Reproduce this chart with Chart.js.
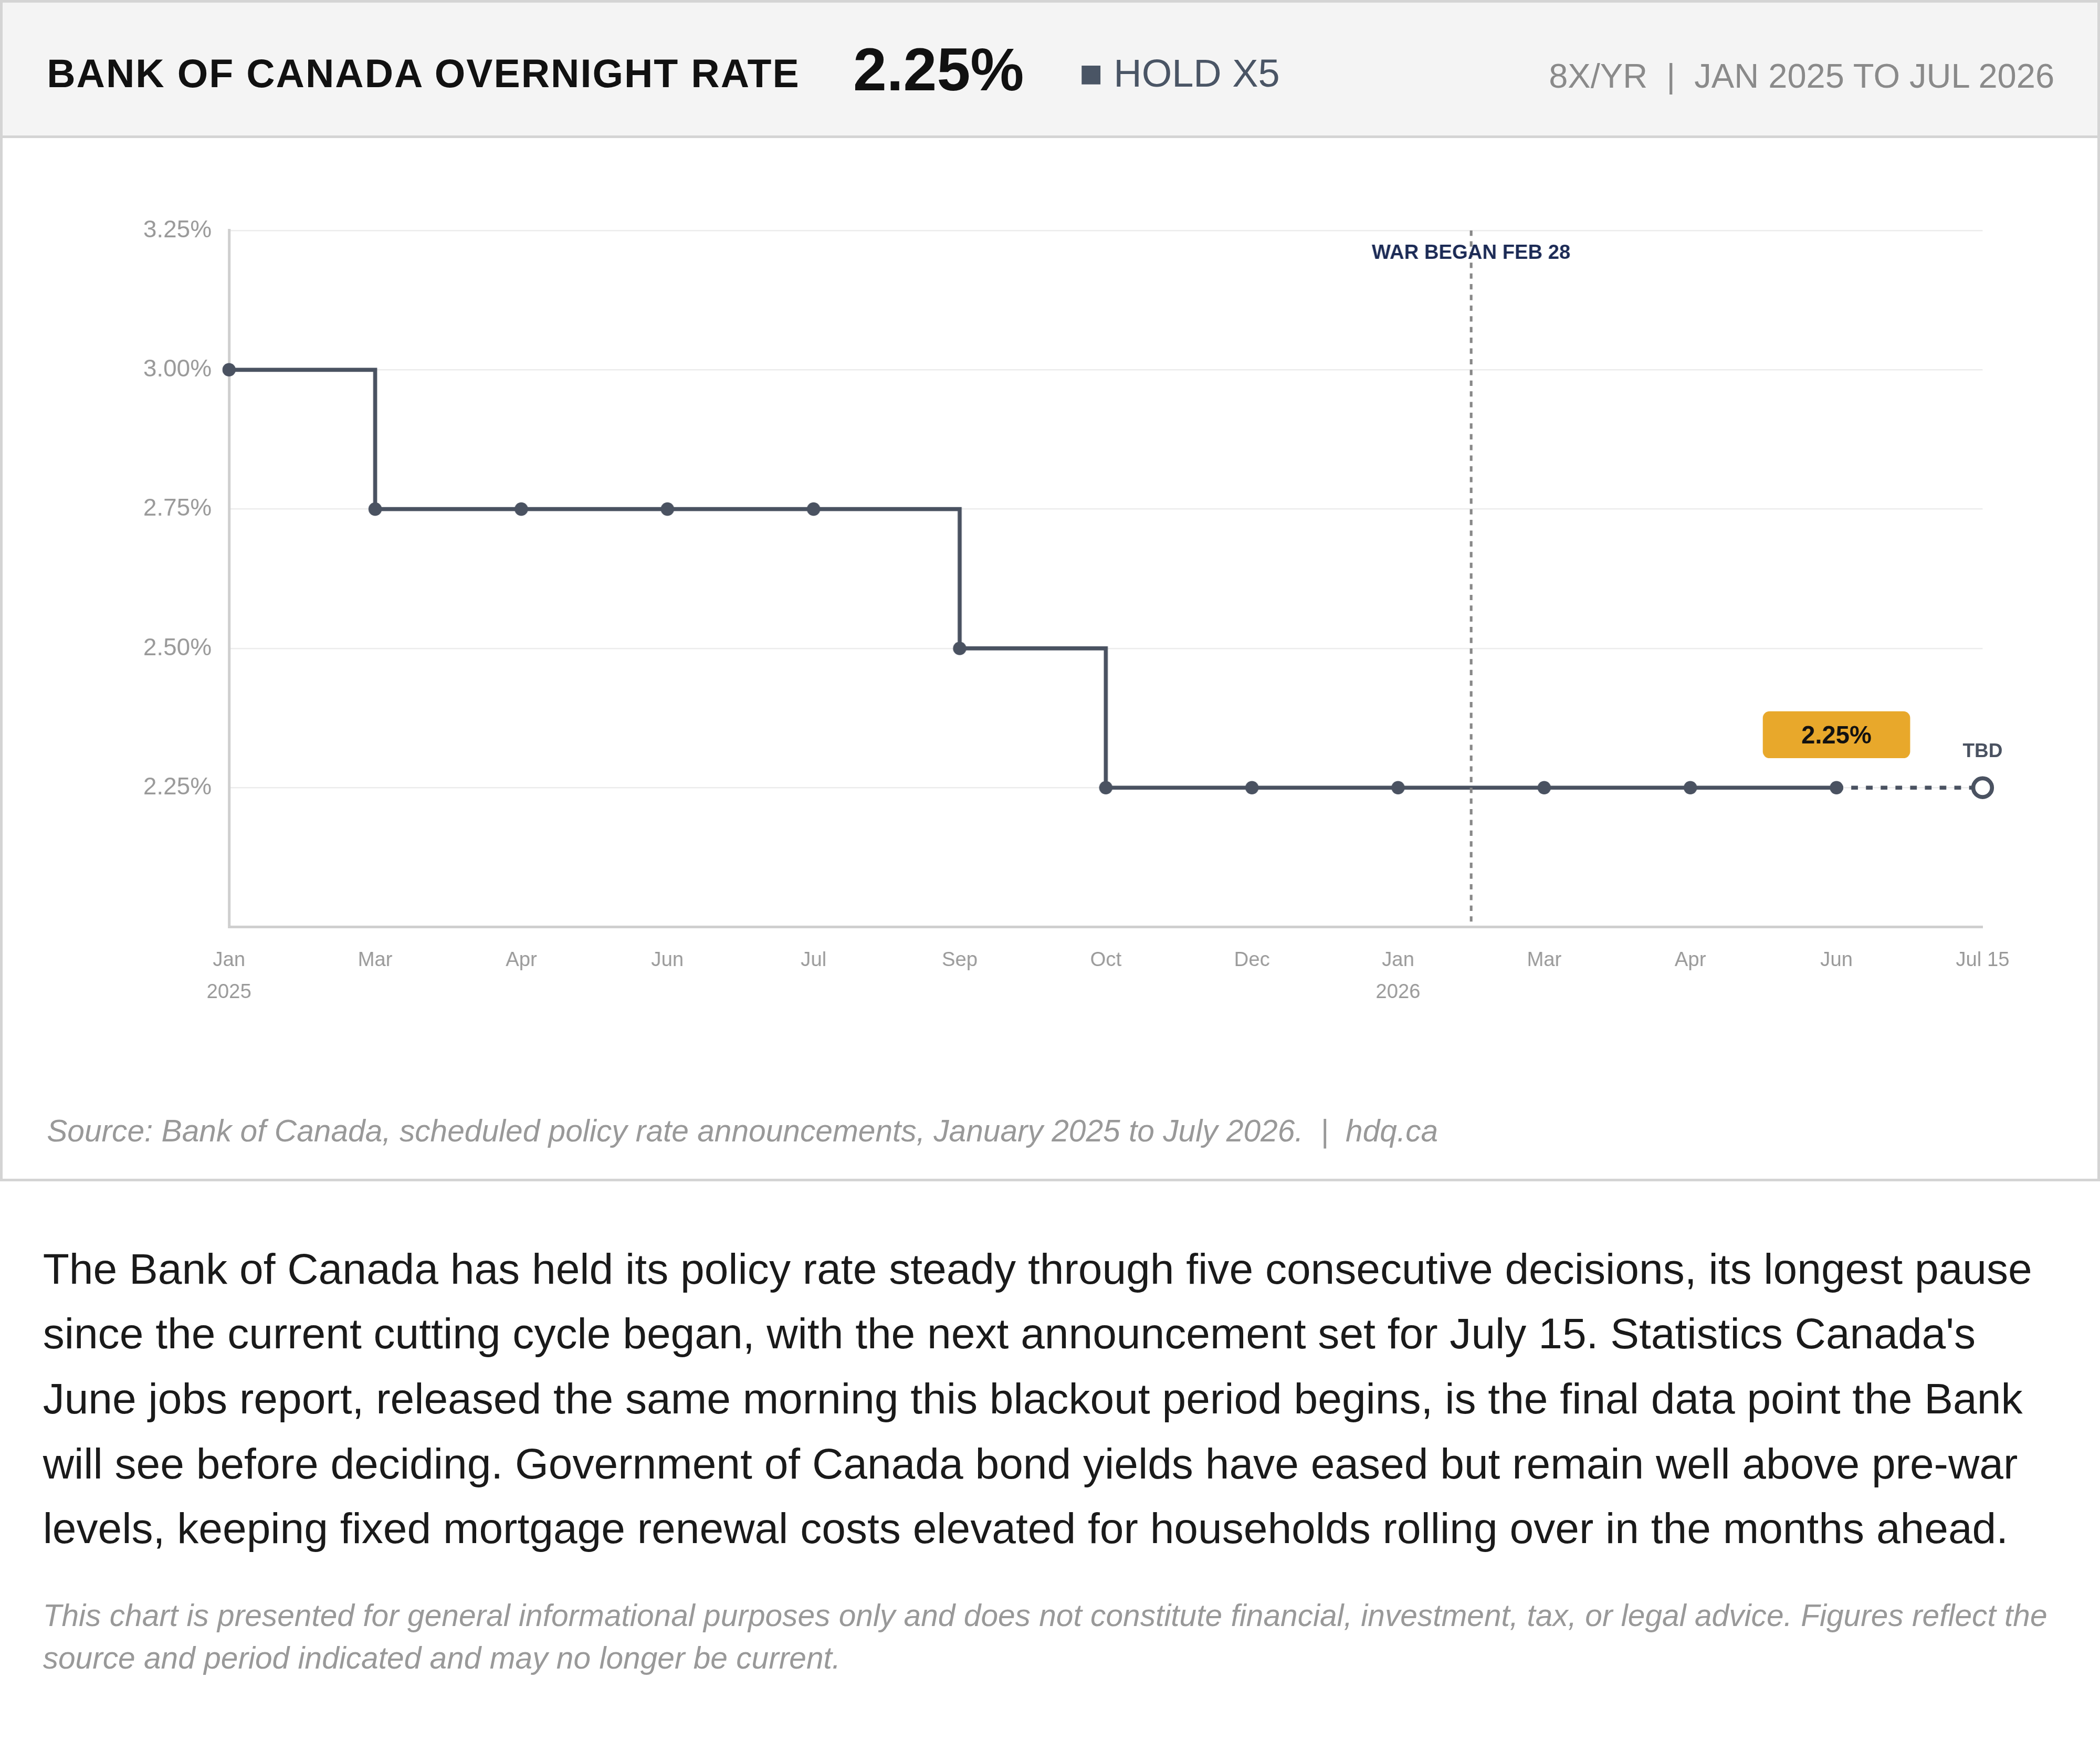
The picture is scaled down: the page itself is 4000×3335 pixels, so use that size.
<!DOCTYPE html>
<html>
<head>
<meta charset="utf-8">
<script src="https://cdn.jsdelivr.net/npm/chart.js@4.4.1/dist/chart.umd.min.js"></script>
<style>
  :root { --s: 2.551; }
  html, body { margin: 0; padding: 0; background: #fff; overflow: hidden; }
  #page { width: 4000px; height: 3335px; position: relative; font-family: "Liberation Sans", Arial, sans-serif; }
  .card { position: absolute; left: 0; top: 0; width: calc(1564px * var(--s)); height: calc(878px * var(--s)); border: calc(2px * var(--s)) solid #d4d4d4; }
  .head { position: absolute; left: 0; top: 0; width: 100%; height: calc(99px * var(--s)); background: #f4f4f4; border-bottom: calc(2px * var(--s)) solid #d4d4d4; }
  .head span { position: absolute; white-space: nowrap; }
  .title { left: calc(33px * var(--s)); top: calc(36px * var(--s)); font-size: calc(29.5px * var(--s)); font-weight: bold; color: #111; letter-spacing: calc(0.8px * var(--s)); }
  .big { left: calc(635px * var(--s)); top: calc(24px * var(--s)); font-size: calc(45px * var(--s)); font-weight: bold; color: #111; }
  .hold { left: calc(804px * var(--s)); top: calc(36px * var(--s)); font-size: calc(29px * var(--s)); color: #4a5565; }
  .range { right: calc(32px * var(--s)); top: calc(40px * var(--s)); font-size: calc(25.5px * var(--s)); color: #8a8a8a; }
  .chartbox { position: absolute; left: 0; top: calc(101px * var(--s)); width: calc(1564px * var(--s)); height: calc(700px * var(--s)); }
  .source { position: absolute; left: calc(33px * var(--s)); top: calc(829px * var(--s)); font-size: calc(23px * var(--s)); font-style: italic; color: #999; white-space: nowrap; }
  .para { position: absolute; left: calc(32px * var(--s)); top: calc(923px * var(--s)); width: calc(1512px * var(--s)); font-size: calc(32.2px * var(--s)); line-height: calc(48.5px * var(--s)); color: #1a1a1a; }
  .disc { position: absolute; left: calc(32px * var(--s)); top: calc(1190px * var(--s)); width: calc(1512px * var(--s)); font-size: calc(23px * var(--s)); line-height: calc(32px * var(--s)); font-style: italic; color: #999; }
</style>
</head>
<body>
<div id="page">
  <div class="card">
    <div class="head">
      <span class="title">BANK OF CANADA OVERNIGHT RATE</span>
      <span class="big">2.25%</span>
      <span class="hold">■ HOLD X5</span>
      <span class="range">8X/YR &nbsp;|&nbsp; JAN 2025 TO JUL 2026</span>
    </div>
    <div class="chartbox"><canvas id="rateChart"></canvas></div>
    <div class="source">Source: Bank of Canada, scheduled policy rate announcements, January 2025 to July 2026. &nbsp;|&nbsp; hdq.ca</div>
  </div>
  <div class="para">The Bank of Canada has held its policy rate steady through five consecutive decisions, its longest pause since the current cutting cycle began, with the next announcement set for July 15. Statistics Canada's June jobs report, released the same morning this blackout period begins, is the final data point the Bank will see before deciding. Government of Canada bond yields have eased but remain well above pre-war levels, keeping fixed mortgage renewal costs elevated for households rolling over in the months ahead.</div>
  <div class="disc">This chart is presented for general informational purposes only and does not constitute financial, investment, tax, or legal advice. Figures reflect the source and period indicated and may no longer be current.</div>
</div>

<script>
const labels = [['Jan', '2025'], 'Mar', 'Apr', 'Jun', 'Jul', 'Sep', 'Oct', 'Dec', ['Jan', '2026'], 'Mar', 'Apr', 'Jun', 'Jul 15'];
const rates = [3.00, 2.75, 2.75, 2.75, 2.75, 2.50, 2.25, 2.25, 2.25, 2.25, 2.25, 2.25, null];
const pending = [null, null, null, null, null, null, null, null, null, null, null, 2.25, 2.25];
const yTicks = [2.25, 2.50, 2.75, 3.00, 3.25];
const warIndex = 8.5;
const currentLabel = '2.25%';

const S = 2.551;
const lineColor = '#4a5261';

const annotations = {
  id: 'annotations',
  afterDatasetsDraw(chart) {
    const { ctx, chartArea, scales } = chart;
    const x = scales.x.getPixelForValue(warIndex);
    ctx.save();
    ctx.strokeStyle = '#888';
    ctx.lineWidth = 2 * S;
    ctx.setLineDash([4 * S, 4 * S]);
    ctx.beginPath();
    ctx.moveTo(x, chartArea.top);
    ctx.lineTo(x, chartArea.bottom);
    ctx.stroke();
    ctx.setLineDash([]);
    ctx.fillStyle = '#1b2a55';
    ctx.font = `bold ${15 * S}px "Liberation Sans", Arial`;
    ctx.textAlign = 'center';
    ctx.textBaseline = 'middle';
    ctx.fillText('WAR BEGAN FEB 28', x, chartArea.top + 17 * S);

    // badge over latest decision
    const bx = scales.x.getPixelForValue(11);
    const by = scales.y.getPixelForValue(2.25);
    ctx.fillStyle = '#e8a82b';
    ctx.beginPath();
    ctx.roundRect(bx - 55 * S, by - 57 * S, 110 * S, 35 * S, 5 * S);
    ctx.fill();
    ctx.fillStyle = '#111';
    ctx.font = `bold ${18.5 * S}px "Liberation Sans", Arial`;
    ctx.fillText(currentLabel, bx, by - 38 * S);

    const tx = scales.x.getPixelForValue(12);
    ctx.fillStyle = '#4a5261';
    ctx.font = `bold ${14.5 * S}px "Liberation Sans", Arial`;
    ctx.fillText('TBD', tx, by - 27 * S);
    ctx.restore();
  }
};

new Chart(document.getElementById('rateChart'), {
  type: 'line',
  data: {
    labels: labels,
    datasets: [
      {
        data: rates,
        borderColor: lineColor,
        borderWidth: 3 * S,
        stepped: true,
        pointRadius: 5 * S,
        pointBackgroundColor: lineColor,
        pointBorderWidth: 0
      },
      {
        data: pending,
        borderColor: lineColor,
        borderWidth: 3 * S,
        borderDash: [5 * S, 6 * S],
        pointRadius: [0, 0, 0, 0, 0, 0, 0, 0, 0, 0, 0, 0, 7 * S],
        pointBackgroundColor: '#fff',
        pointBorderColor: lineColor,
        pointBorderWidth: 3 * S
      }
    ]
  },
  options: {
    responsive: true,
    maintainAspectRatio: false,
    devicePixelRatio: 1,
    animation: false,
    layout: { padding: { top: 69 * S, right: 86 * S, bottom: 0, left: 0 } },
    plugins: { legend: { display: false }, tooltip: { enabled: false } },
    scales: {
      x: {
        offset: false,
        grid: { display: false, drawTicks: false },
        border: { color: '#cfcfcf', width: 2 * S },
        ticks: { color: '#999', font: { size: 15 * S, lineHeight: 1.6 }, padding: 13 * S, maxRotation: 0, autoSkip: false },
        afterFit: s => { s.height = 111 * S; }
      },
      y: {
        min: 2.0,
        max: 3.25,
        afterBuildTicks: s => { s.ticks = [2.0].concat(yTicks).map(v => ({ value: v })); },
        grid: { color: '#ececec', lineWidth: 1 * S, drawTicks: false },
        border: { color: '#cfcfcf', width: 2 * S },
        ticks: {
          color: '#999', font: { size: 18 * S }, padding: 13 * S,
          callback: v => v <= 2.0 ? '' : v.toFixed(2) + '%'
        },
        afterFit: s => { s.width = 169 * S; }
      }
    }
  },
  plugins: [annotations]
});
</script>
</body>
</html>
